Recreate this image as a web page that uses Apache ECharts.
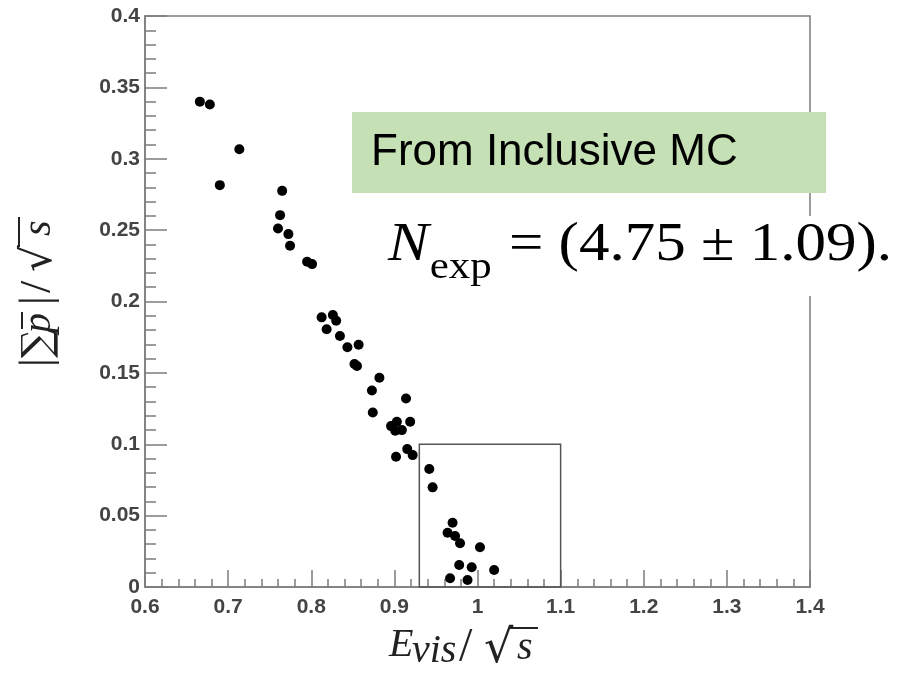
<!DOCTYPE html>
<html>
<head>
<meta charset="utf-8">
<script src="https://cdn.jsdelivr.net/npm/echarts@6/dist/echarts.min.js"></script>
<style>
  html, body { margin: 0; padding: 0; background: #ffffff; }
  #chart { width: 901px; height: 674px; }
</style>
</head>
<body>
<div id="chart"></div>
<script>
// Visible energy fraction E_vis/sqrt(s) of each selected event
const evisRatio = [
  0.666, 0.678, 0.7135, 0.690, 0.765, 0.7625, 0.760, 0.7725, 0.7745, 0.795,
  0.801, 0.8125, 0.826, 0.830, 0.8185, 0.8345, 0.8435, 0.857, 0.852, 0.855,
  0.882, 0.873, 0.914, 0.874, 0.896, 0.903, 0.901, 0.909, 0.919, 0.902,
  0.9155, 0.922, 0.942, 0.946, 0.970, 0.964, 0.973, 0.979, 1.003, 0.978,
  0.993, 1.020, 0.967, 0.988
];
// Momentum balance |sum p|/sqrt(s) of the same events
const pSumRatio = [
  0.340, 0.338, 0.3067, 0.2815, 0.2775, 0.2605, 0.2512, 0.2472, 0.239, 0.2278,
  0.2262, 0.1889, 0.1905, 0.1865, 0.1805, 0.1758, 0.1679, 0.1697, 0.1562, 0.1548,
  0.1466, 0.1376, 0.132, 0.1223, 0.1127, 0.1158, 0.1095, 0.1099, 0.1158, 0.0912,
  0.0966, 0.0924, 0.0826, 0.0698, 0.045, 0.038, 0.0357, 0.0306, 0.0278, 0.0154,
  0.0138, 0.0119, 0.0061, 0.0049
];
// Signal window: E_vis/sqrt(s) range and |sum p|/sqrt(s) range
const windowE = [0.93, 1.1];
const windowP = [0, 0.1];
// Axis ranges and tick steps
const xRange = [0.6, 1.4];
const xStep = 0.1;
const yRange = [0, 0.4];
const yStep = 0.05;

const points = evisRatio.map((e, i) => [e, pSumRatio[i]]);

const frameGray = '#7c7c7c';
const labelStyle = {
  fontSize: 21,
  fontWeight: 'bold',
  color: '#444',
  fontFamily: '"Liberation Sans", Arial, sans-serif'
};
const serif = '"Liberation Serif", "Times New Roman", serif';
const ink = '#222';

// text helper for the math annotations
function t(x, y, text, font, z) {
  return { type: 'text', z: z, x: x, y: y, style: { text: text, font: font, fill: ink, verticalAlign: 'middle' } };
}
function bar(x1, y1, x2, y2, z) {
  return { type: 'line', z: z, shape: { x1: x1, y1: y1, x2: x2, y2: y2 }, style: { stroke: ink, lineWidth: 2 } };
}

const chart = echarts.init(document.getElementById('chart'), null, { renderer: 'canvas' });

chart.setOption({
  animation: false,
  backgroundColor: '#ffffff',
  grid: {
    left: 145, right: 91, top: 16, bottom: 87,
    show: true, borderColor: frameGray, borderWidth: 1.5,
    backgroundColor: 'transparent',
    outerBoundsMode: 'none'
  },
  xAxis: {
    type: 'value',
    min: xRange[0], max: xRange[1], interval: xStep,
    axisLine: { show: true, onZero: false, lineStyle: { color: frameGray, width: 1.5 } },
    axisTick: { show: true, inside: true, length: 17, lineStyle: { color: frameGray, width: 1.5 } },
    minorTick: { show: true, splitNumber: 5, length: 8, lineStyle: { color: frameGray, width: 1.5 } },
    splitLine: { show: false },
    axisLabel: Object.assign({ margin: 10, showMinLabel: true, showMaxLabel: true }, labelStyle)
  },
  yAxis: {
    type: 'value',
    min: yRange[0], max: yRange[1], interval: yStep,
    axisLine: { show: true, onZero: false, lineStyle: { color: frameGray, width: 1.5 } },
    axisTick: { show: true, inside: true, length: 22, lineStyle: { color: frameGray, width: 1.5 } },
    minorTick: { show: true, splitNumber: 5, length: 11, lineStyle: { color: frameGray, width: 1.5 } },
    splitLine: { show: false },
    axisLabel: Object.assign({ margin: 5, showMinLabel: true, showMaxLabel: true }, labelStyle)
  },
  series: [{
    type: 'scatter',
    data: points,
    symbol: 'circle',
    symbolSize: 10,
    itemStyle: { color: '#000000', opacity: 1 },
    markArea: {
      silent: true,
      itemStyle: { color: 'rgba(0,0,0,0)', borderColor: '#555555', borderWidth: 1.5 },
      data: [[
        { coord: [windowE[0], windowP[0]] },
        { coord: [windowE[1], windowP[1]] }
      ]]
    }
  }],
  graphic: [
    // Sample label
    {
      type: 'rect', z: 100,
      shape: { x: 352, y: 112, width: 474, height: 81 },
      style: { fill: '#c5e0b4' }
    },
    {
      type: 'text', z: 101, x: 371, y: 153,
      style: { text: 'From Inclusive MC', font: '44px "Liberation Sans", Arial, sans-serif', fill: '#000', verticalAlign: 'middle' }
    },
    // Expected count
    {
      type: 'rect', z: 100,
      shape: { x: 380, y: 216, width: 521, height: 80 },
      style: { fill: '#ffffff' }
    },
    {
      type: 'group', x: 388, y: 0, scaleX: 1.13,
      children: [
        { type: 'text', z: 102, x: 0, y: 246, style: { text: 'N', font: 'italic 54px ' + serif, fill: '#000', verticalAlign: 'middle' } },
        { type: 'text', z: 102, x: 37, y: 268, style: { text: 'exp', font: '38px ' + serif, fill: '#000', verticalAlign: 'middle' } },
        { type: 'text', z: 102, x: 107, y: 246, style: { text: '= (4.75 ± 1.09).', font: '54px ' + serif, fill: '#000', verticalAlign: 'middle' } }
      ]
    },
    // x axis title: E_vis / sqrt(s)
    {
      type: 'group', x: 389, y: 0,
      children: [
        t(0, 645, 'E', 'italic 40px ' + serif, 102),
        t(23, 651, 'vis', 'italic 40px ' + serif, 102),
        t(70, 648, '/', '48px ' + serif, 102),
        t(95, 650, '√', '46px "DejaVu Serif", serif', 102),
        t(128, 648, 's', 'italic 40px ' + serif, 102),
        bar(121, 628, 149, 628, 102)
      ]
    },
    // y axis title: |sum p-bar| / sqrt(s), read bottom to top
    {
      type: 'group', x: 52, y: 367, rotation: Math.PI / 2,
      children: [
        t(0, -14, '|', '44px ' + serif, 102),
        t(9, -12, '∑', '40px "DejaVu Serif", serif', 102),
        t(34, -13, 'p', 'italic 40px ' + serif, 102),
        bar(38, -30, 55, -30, 102),
        t(62, -14, '|', '44px ' + serif, 102),
        t(74, -14, '/', '44px ' + serif, 102),
        t(95, -12, '√', '42px "DejaVu Serif", serif', 102),
        t(131, -13, 's', 'italic 40px ' + serif, 102),
        bar(120, -33, 150, -33, 102)
      ]
    }
  ]
});
</script>
</body>
</html>
